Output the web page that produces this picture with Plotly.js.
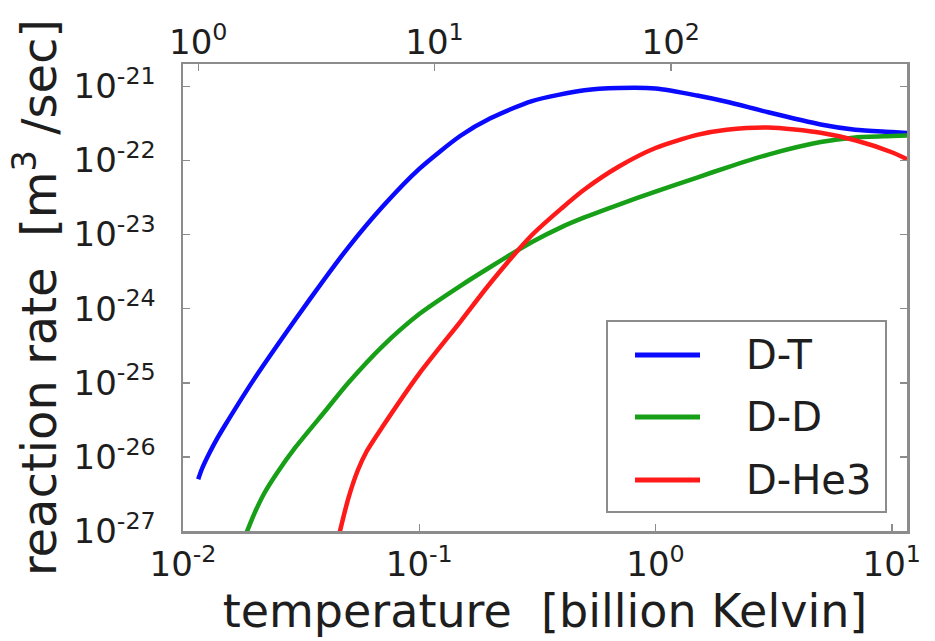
<!DOCTYPE html>
<html>
<head>
<meta charset="utf-8">
<script src="https://cdn.plot.ly/plotly-3.0.1.min.js"></script>
<style>
  html, body { margin: 0; padding: 0; background: #ffffff; }
  #chart { width: 935px; height: 641px; }
</style>
</head>
<body>
<div id="chart"></div>
<script>
// ---- data (temperature in billion Kelvin, reaction rate in m^3/sec) ----
const dtTemp = [0.0116, 0.012, 0.013, 0.014, 0.015, 0.02, 0.03, 0.04, 0.05, 0.07, 0.1, 0.15, 0.2, 0.3, 0.5, 0.7, 1, 1.5, 2, 3, 5, 7, 10, 11.6];
const dtRate = [5.0e-27, 6.76e-27, 1.16e-26, 1.80e-26, 2.61e-26, 1.12e-25, 7.25e-25, 2.59e-24, 6.68e-24, 2.39e-23, 7.7e-23, 2.17e-22, 3.70e-22, 6.33e-22, 8.85e-22, 9.48e-22, 9.33e-22, 7.51e-22, 6.19e-22, 4.46e-22, 3.06e-22, 2.60e-22, 2.42e-22, 2.34e-22];

const ddTemp = [0.018, 0.02, 0.022, 0.025, 0.03, 0.04, 0.05, 0.07, 0.1, 0.15, 0.2, 0.3, 0.4, 0.5, 0.7, 1, 1.5, 2, 3, 5, 7, 10, 11.6];
const ddRate = [7.4e-28, 1.69e-27, 3.16e-27, 6.06e-27, 1.36e-26, 4.16e-26, 9.93e-26, 3.13e-25, 8.47e-25, 2.05e-24, 3.65e-24, 7.93e-24, 1.26e-23, 1.70e-23, 2.54e-23, 3.80e-23, 5.88e-23, 8.02e-23, 1.20e-22, 1.77e-22, 2.04e-22, 2.13e-22, 2.17e-22];

const dheTemp = [0.045, 0.05, 0.055, 0.06, 0.07, 0.1, 0.15, 0.2, 0.3, 0.4, 0.5, 0.7, 1, 1.5, 2, 3, 5, 7, 10, 11.6];
const dheRate = [7.1e-28, 2.70e-27, 6.65e-27, 1.20e-26, 2.57e-26, 1.33e-25, 6.81e-25, 2.22e-24, 9.85e-24, 2.25e-23, 4.05e-23, 8.27e-23, 1.47e-22, 2.21e-22, 2.59e-22, 2.78e-22, 2.36e-22, 1.87e-22, 1.29e-22, 1.04e-22];

const seriesNames = ['D-T', 'D-D', 'D-He3'];
const seriesColors = ['#0a0aff', '#17a017', '#ff1a1a'];

const xTickVals = [0.01, 0.1, 1, 10];
const xTickText = ['10<sup>-2</sup>', '10<sup>-1</sup>', '10<sup>0</sup>', '10<sup>1</sup>'];
const topTickVals = [1, 10, 100, 1000];
const topTickText = ['10<sup>0</sup>', '10<sup>1</sup>', '10<sup>2</sup>', '10<sup>3</sup>'];
const yTickVals = [1e-27, 1e-26, 1e-25, 1e-24, 1e-23, 1e-22, 1e-21];
const yTickText = ['10<sup>-27</sup>', '10<sup>-26</sup>', '10<sup>-25</sup>', '10<sup>-24</sup>', '10<sup>-23</sup>', '10<sup>-22</sup>', '10<sup>-21</sup>'];

const xRangeGK = [0.01, 11.6];
const yRange = [1e-27, 2e-21];
const keVPerGK = 86.17;

// ---- styling ----
const FONT = 'DejaVu Sans, Liberation Sans, sans-serif';
const TXT = '#1e1e1e';
const FRAME = '#8c8c8c';

const allTemps = [dtTemp, ddTemp, dheTemp];
const allRates = [dtRate, ddRate, dheRate];

const traces = allTemps.map((t, i) => ({
  type: 'scatter', mode: 'lines', name: seriesNames[i],
  x: t, y: allRates[i],
  xaxis: 'x', yaxis: 'y',
  line: { color: seriesColors[i], width: 4.5, shape: 'spline', smoothing: 0.7 },
  showlegend: false, hoverinfo: 'skip'
}));
// carrier for the top (keV) axis, no visible marks
traces.push({ type: 'scatter', mode: 'lines', x: [topTickVals[0], topTickVals[3]], y: [null, null],
  xaxis: 'x2', yaxis: 'y', showlegend: false, hoverinfo: 'skip' });

const L = 183, R = 907, T = 64, B = 531;
const W = 935, H = 641;
const px = v => (v - L) / (R - L);
const py = v => (B - v) / (B - T);

// legend drawn in paper coordinates
const legendBox = { x0: 607, x1: 886, y0: 321, y1: 512 };
const legendRows = [355, 417, 480];
const shapes = [{
  type: 'rect', xref: 'paper', yref: 'paper',
  x0: px(legendBox.x0), x1: px(legendBox.x1), y0: py(legendBox.y1), y1: py(legendBox.y0),
  line: { color: FRAME, width: 2 }, fillcolor: '#ffffff', layer: 'above'
}];
const annotations = [];
legendRows.forEach((ry, i) => {
  shapes.push({ type: 'line', xref: 'paper', yref: 'paper',
    x0: px(635), x1: px(700), y0: py(ry), y1: py(ry),
    line: { color: seriesColors[i], width: 5 }, layer: 'above' });
  annotations.push({ xref: 'paper', yref: 'paper', x: px(744), y: py(ry),
    xanchor: 'left', yanchor: 'middle', showarrow: false,
    text: seriesNames[i], font: { family: FONT, size: 40, color: TXT } });
});

const layout = {
  width: W, height: H,
  margin: { l: L, r: W - R, t: T, b: H - B, pad: 0 },
  paper_bgcolor: '#ffffff', plot_bgcolor: '#ffffff',
  font: { family: FONT, color: TXT },
  showlegend: false,
  xaxis: {
    type: 'log', range: [Math.log10(xRangeGK[0]), Math.log10(xRangeGK[1])],
    tickmode: 'array', tickvals: xTickVals, ticktext: xTickText,
    ticks: 'inside', ticklen: 7, tickwidth: 1.5, tickcolor: FRAME,
    showline: true, linecolor: FRAME, linewidth: 2.5, mirror: false,
    showgrid: false, zeroline: false,
    tickfont: { family: FONT, size: 34, color: TXT }, ticklabelstandoff: 2,
    title: { text: 'temperature  [billion Kelvin]', font: { family: FONT, size: 46, color: TXT }, standoff: 2 }
  },
  xaxis2: {
    type: 'log', overlaying: 'x', side: 'top', anchor: 'y',
    range: [Math.log10(xRangeGK[0] * keVPerGK), Math.log10(xRangeGK[1] * keVPerGK)],
    tickmode: 'array', tickvals: topTickVals, ticktext: topTickText,
    ticks: 'inside', ticklen: 7, tickwidth: 1.5, tickcolor: FRAME,
    showline: true, linecolor: FRAME, linewidth: 2.5,
    showgrid: false, zeroline: false,
    tickfont: { family: FONT, size: 34, color: TXT }, ticklabelstandoff: -6
  },
  yaxis: {
    type: 'log', range: [Math.log10(yRange[0]), Math.log10(yRange[1])],
    tickmode: 'array', tickvals: yTickVals, ticktext: yTickText,
    ticks: 'inside', ticklen: 7, tickwidth: 1.5, tickcolor: FRAME,
    showline: true, linecolor: FRAME, linewidth: 2.5, mirror: 'ticks',
    showgrid: false, zeroline: false,
    tickfont: { family: FONT, size: 34, color: TXT }, ticklabelstandoff: 18,
    title: { text: 'reaction rate  [m<sup>3</sup> /sec]', font: { family: FONT, size: 48, color: TXT }, standoff: 2 }
  },
  shapes: shapes,
  annotations: annotations
};

Plotly.newPlot('chart', traces, layout, { staticPlot: true, displayModeBar: false });
</script>
</body>
</html>
